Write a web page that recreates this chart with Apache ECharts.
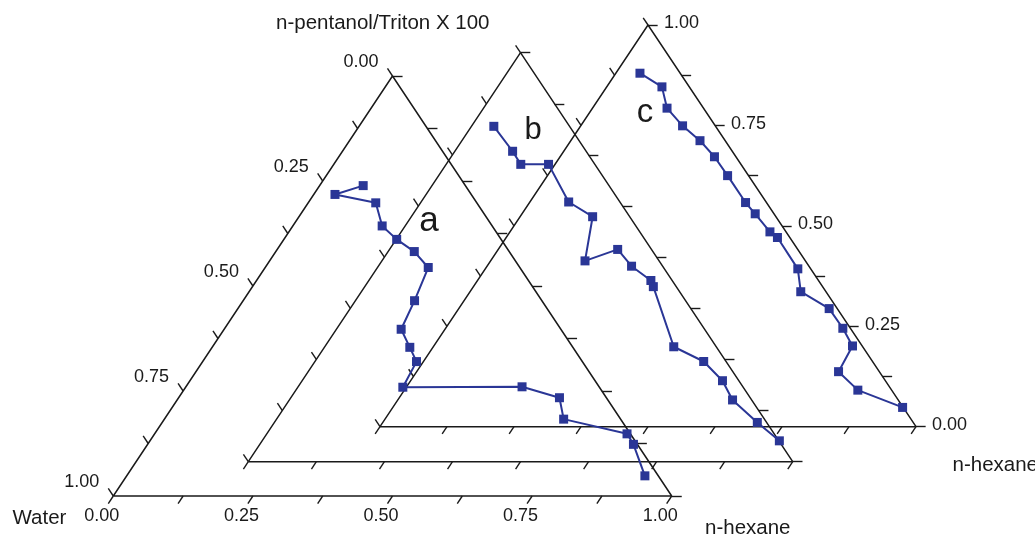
<!DOCTYPE html>
<html>
<head>
<meta charset="utf-8">
<title>ternary diagrams a, b, c</title>
<script src="https://cdn.jsdelivr.net/npm/echarts@6/dist/echarts.min.js"></script>
<style>
  html, body { margin: 0; padding: 0; background: #fff; }
  #main { width: 1035px; height: 538px; }
</style>
</head>
<body>
<div id="main"></div>
<script>
// mass fractions (water = 1 - hexane - surfactant)
var hexaneA = [0.078, 0.038, 0.121, 0.160, 0.202, 0.248, 0.292, 0.307, 0.317, 0.354, 0.383, 0.389, 0.602, 0.682, 0.715, 0.846, 0.870, 0.928];
var surfA   = [0.739, 0.718, 0.698, 0.643, 0.611, 0.582, 0.544, 0.465, 0.397, 0.354, 0.320, 0.259, 0.260, 0.234, 0.183, 0.148, 0.123, 0.048];

var hexaneB = [0.041, 0.106, 0.137, 0.188, 0.271, 0.333, 0.373, 0.419, 0.465, 0.518, 0.530, 0.641, 0.714, 0.772, 0.814, 0.887, 0.950];
var surfB   = [0.820, 0.759, 0.727, 0.727, 0.635, 0.599, 0.491, 0.519, 0.478, 0.443, 0.428, 0.281, 0.245, 0.198, 0.151, 0.096, 0.051];

var hexaneC = [0.045, 0.103, 0.139, 0.190, 0.241, 0.288, 0.336, 0.403, 0.435, 0.485, 0.506, 0.583, 0.617, 0.691, 0.741, 0.781, 0.787, 0.846, 0.951];
var surfC   = [0.880, 0.846, 0.793, 0.749, 0.712, 0.672, 0.625, 0.558, 0.530, 0.485, 0.471, 0.393, 0.336, 0.294, 0.245, 0.201, 0.137, 0.091, 0.048];

var tickValues = [0, 0.125, 0.25, 0.375, 0.5, 0.625, 0.75, 0.875, 1];
var labelValues = [0, 0.25, 0.5, 0.75, 1];
var tickLabels = ['0.00', '0.25', '0.50', '0.75', '1.00'];

// where each triangle sits on the page (oblique stack)
var frames = {
  a: { x0: 113.3, y0: 496, w: 558.4, h: 420 },
  b: { x0: 248.3, y0: 461.7, w: 544.4, h: 409 },
  c: { x0: 380, y0: 426.7, w: 536, h: 401.7 }
};
var TICK = 0.018;
var FONT = '"Liberation Sans", Arial, sans-serif';
var INK = '#1a1a1a';
var BLUE = '#2a3696';

function toXY(f, hex, surf) {
  return [f.x0 + f.w * (hex + surf / 2), f.y0 - f.h * surf];
}

function curve(f, hex, surf) {
  return hex.map(function (v, i) { return toXY(f, v, surf[i]); });
}

var series = [];

Object.keys(frames).forEach(function (k) {
  var f = frames[k];
  series.push({
    type: 'line',
    silent: true,
    symbol: 'none',
    lineStyle: { color: INK, width: 1.5 },
    data: [toXY(f, 0, 0), toXY(f, 1, 0), toXY(f, 0, 1), toXY(f, 0, 0)],
    z: 1
  });
  var ticks = [];
  tickValues.forEach(function (v) {
    ticks.push({ coords: [toXY(f, v, 0), toXY(f, v, -TICK)] });              // bottom
    ticks.push({ coords: [toXY(f, 0, v), toXY(f, -TICK, v + TICK)] });       // left
    ticks.push({ coords: [toXY(f, 1 - v, v), toXY(f, 1 - v + TICK, v)] });   // right
  });
  series.push({
    type: 'lines',
    coordinateSystem: 'cartesian2d',
    silent: true,
    lineStyle: { color: INK, width: 1.4, opacity: 1 },
    data: ticks,
    z: 1
  });
});

function labelSeries(points, offset, align) {
  return {
    type: 'scatter',
    silent: true,
    symbolSize: 1,
    itemStyle: { color: 'rgba(0,0,0,0)', opacity: 1 },
    label: {
      show: true,
      position: offset,
      align: align,
      verticalAlign: 'middle',
      formatter: function (p) { return p.data.name; },
      fontFamily: FONT,
      fontSize: 18,
      color: INK
    },
    data: points,
    z: 2
  };
}

// water fraction on the left edge of a, hexane along the bottom of a, surfactant on the right edge of c
series.push(labelSeries(labelValues.map(function (v, i) {
  return { name: tickLabels[i], value: toXY(frames.a, 0, 1 - v) };
}), [-13.5, -13.5], 'right'));
series.push(labelSeries(labelValues.map(function (v, i) {
  return { name: tickLabels[i], value: toXY(frames.a, v, 0) };
}), [-11, 21], 'center'));
series.push(labelSeries(labelValues.map(function (v, i) {
  return { name: tickLabels[i], value: toXY(frames.c, 1 - v, v) };
}), [16.5, -1], 'left'));

[[frames.a, hexaneA, surfA], [frames.b, hexaneB, surfB], [frames.c, hexaneC, surfC]].forEach(function (s) {
  series.push({
    type: 'line',
    silent: true,
    symbol: 'rect',
    symbolSize: 9,
    itemStyle: { color: BLUE },
    lineStyle: { color: BLUE, width: 2 },
    data: curve(s[0], s[1], s[2]),
    z: 5
  });
});

function txt(text, x, y, size, align, vAlign) {
  return {
    type: 'text',
    silent: true,
    z: 10,
    style: {
      text: text, x: x, y: y,
      font: size + 'px ' + FONT,
      fill: INK,
      textAlign: align,
      textVerticalAlign: vAlign
    }
  };
}

var chart = echarts.init(document.getElementById('main'));
chart.setOption({
  animation: false,
  grid: { left: 0, right: 0, top: 0, bottom: 0 },
  xAxis: { type: 'value', min: 0, max: 1035, show: false },
  yAxis: { type: 'value', min: 0, max: 538, inverse: true, show: false },
  series: series,
  graphic: [
    txt('n-pentanol/Triton X 100', 276, 23.5, 20.5, 'left', 'middle'),
    txt('Water', 12.5, 518.5, 20.5, 'left', 'middle'),
    txt('n-hexane', 705, 539, 20.5, 'left', 'bottom'),
    txt('n-hexane', 952.5, 465, 20.5, 'left', 'middle'),
    txt('a', 429, 221, 35, 'center', 'middle'),
    txt('b', 533, 130, 31, 'center', 'middle'),
    txt('c', 645, 113, 33, 'center', 'middle')
  ]
});
</script>
</body>
</html>
